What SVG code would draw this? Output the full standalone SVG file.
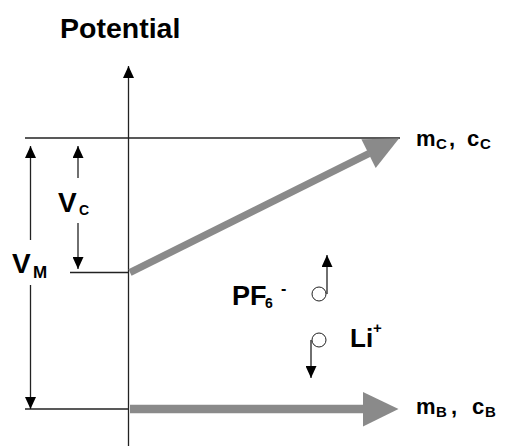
<svg xmlns="http://www.w3.org/2000/svg" width="505" height="446" viewBox="0 0 505 446">
<style>
.ln{stroke:#222;stroke-width:1.3;fill:none}
.t{font-family:"Liberation Sans",Arial,sans-serif;font-weight:bold;fill:#000}
.gr{stroke:#8a8a8a;fill:none}
.gh{fill:#8a8a8a}
</style>
<defs>
<marker id="ah" viewBox="0 0 12 11" refX="12" refY="5.5" markerWidth="12" markerHeight="11" markerUnits="userSpaceOnUse" orient="auto">
<path d="M0,0 L12,5.5 L0,11 Z" fill="#000"/>
</marker>
</defs>
<rect width="505" height="446" fill="#fff"/>
<g id="connectors">
<line class="ln" x1="128.5" y1="446" x2="128.5" y2="66" marker-end="url(#ah)"/>
<line class="ln" x1="25" y1="138" x2="400" y2="138"/>
<line class="ln" x1="70" y1="272.5" x2="129" y2="272.5"/>
<line class="ln" x1="25" y1="409" x2="129" y2="409"/>
<line class="ln" x1="30.5" y1="240" x2="30.5" y2="146" marker-end="url(#ah)"/>
<line class="ln" x1="30.5" y1="285" x2="30.5" y2="409" marker-end="url(#ah)"/>
<line class="ln" x1="78" y1="178" x2="78" y2="146" marker-end="url(#ah)"/>
<line class="ln" x1="78" y1="223" x2="78" y2="269" marker-end="url(#ah)"/>
<line class="ln" x1="327" y1="294" x2="327" y2="255" marker-end="url(#ah)"/>
<line class="ln" x1="311" y1="340" x2="311" y2="378" marker-end="url(#ah)"/>
</g>
<g id="arrow-c">
<line class="gr" stroke-width="7" x1="130" y1="272.5" x2="369" y2="153.5"/>
<polygon class="gh" points="361.4,139.3 399,138.5 375.7,168"/>
</g>
<g id="arrow-b">
<line class="gr" stroke-width="8.5" x1="130" y1="409" x2="364" y2="409"/>
<polygon class="gh" points="363,392 398.5,409 363,426.5"/>
</g>
<g id="ion-pf6">
<circle cx="319" cy="294" r="7" fill="none" stroke="#222" stroke-width="1"/>
<text class="t" x="232" y="305" font-size="27">PF</text>
<text class="t" x="265" y="308" font-size="14">6</text>
<text class="t" x="281" y="293.5" font-size="16">-</text>
</g>
<g id="ion-li">
<circle cx="319" cy="340" r="7" fill="none" stroke="#222" stroke-width="1"/>
<text class="t" x="350" y="347" font-size="26">Li</text>
<text class="t" x="373" y="333" font-size="15">+</text>
</g>
<g id="labels">
<text class="t" x="60" y="38" font-size="28.5">Potential</text>
<text class="t" x="12" y="273" font-size="28">V</text>
<text class="t" x="33" y="278" font-size="17">M</text>
<text class="t" x="58" y="212" font-size="28">V</text>
<text class="t" x="79" y="215" font-size="14">C</text>
<text class="t" x="416" y="146" font-size="22">m</text>
<text class="t" x="436" y="149" font-size="15">C</text>
<text class="t" x="449" y="146" font-size="22">,</text>
<text class="t" x="467" y="146" font-size="22">c</text>
<text class="t" x="480" y="149" font-size="15">C</text>
<text class="t" x="416" y="414" font-size="22">m</text>
<text class="t" x="436" y="417" font-size="15">B</text>
<text class="t" x="451" y="414" font-size="22">,</text>
<text class="t" x="472" y="414" font-size="22">c</text>
<text class="t" x="485" y="417" font-size="15">B</text>
</g>
</svg>
